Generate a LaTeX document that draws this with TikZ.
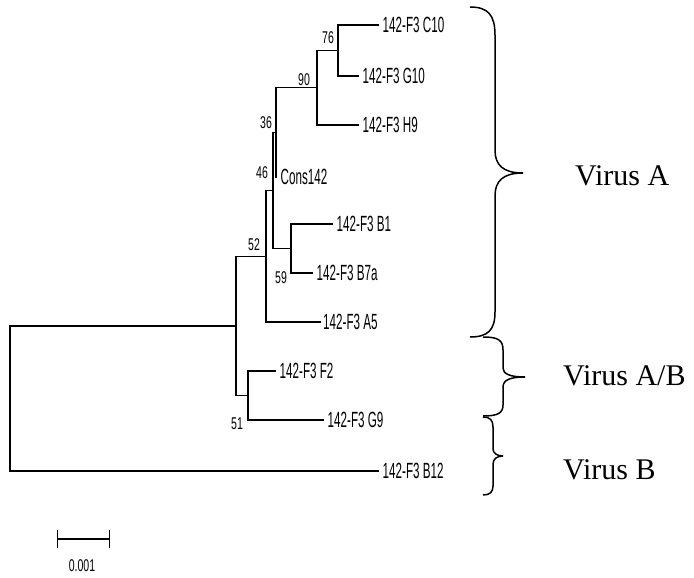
\documentclass[tikz,border=0pt]{standalone}
\usepackage{fontspec}
\newfontfamily\leaffont[FakeStretch=0.53]{Liberation Sans}
\newfontfamily\bootfont[FakeStretch=0.62]{Liberation Sans}
\newfontfamily\virusfont{Liberation Serif}
\begin{document}
\begin{tikzpicture}[x=1pt,y=-1pt,
  branch/.style={line width=1.2pt,line cap=rect},
  leaflab/.style={anchor=west,inner sep=0pt,xshift=4.5pt,font=\leaffont\fontsize{22}{24}\selectfont},
  bootlab/.style={inner sep=0pt,font=\bootfont\fontsize{17}{19}\selectfont},
  bracestyle/.style={line width=1.5pt},
  viruslab/.style={anchor=base west,inner sep=0pt,font=\virusfont\fontsize{30}{34}\selectfont}]
\useasboundingbox (0,0) rectangle (694,578);
% internal nodes
\coordinate (root) at (10,398.4);
\coordinate (n0) at (236,325.9);
\coordinate (n52) at (266,256.25);
\coordinate (n46) at (273,190.5);
\coordinate (n36) at (276,132.4);
\coordinate (n90) at (317,87.75);
\coordinate (n76) at (338,50.5);
\coordinate (n59) at (291,248.5);
\coordinate (n51) at (248,395.5);
% leaves
\coordinate (C10) at (378,25);
\coordinate (G10) at (358,76);
\coordinate (H9) at (358,125);
\coordinate (Cons) at (276,177);
\coordinate (B1) at (332,224);
\coordinate (B7a) at (312,273);
\coordinate (A5) at (320,322);
\coordinate (F2) at (275,371);
\coordinate (G9) at (323,420);
\coordinate (B12) at (378,471);
% branches
\draw[branch] (root) |- (n0);
\draw[branch] (root) |- (B12);
\draw[branch] (n0) |- (n52);
\draw[branch] (n0) |- (n51);
\draw[branch] (n52) |- (n46);
\draw[branch] (n52) |- (A5);
\draw[branch] (n46) |- (n36);
\draw[branch] (n46) |- (n59);
\draw[branch] (n36) |- (n90);
\draw[branch] (n36) |- (Cons);
\draw[branch] (n90) |- (n76);
\draw[branch] (n90) |- (H9);
\draw[branch] (n76) |- (C10);
\draw[branch] (n76) |- (G10);
\draw[branch] (n59) |- (B1);
\draw[branch] (n59) |- (B7a);
\draw[branch] (n51) |- (F2);
\draw[branch] (n51) |- (G9);
% leaf labels
\node[leaflab] (lC10) at (C10) {142-F3 C10};
\node[leaflab] (lG10) at (G10) {142-F3 G10};
\node[leaflab] (lH9) at (H9) {142-F3 H9};
\node[leaflab] (lCons) at (Cons) {Cons142};
\node[leaflab] (lB1) at (B1) {142-F3 B1};
\node[leaflab] (lB7a) at (B7a) {142-F3 B7a};
\node[leaflab,xshift=-1.5pt] (lA5) at (A5) {142-F3 A5};
\node[leaflab] (lF2) at (F2) {142-F3 F2};
\node[leaflab] (lG9) at (G9) {142-F3 G9};
\node[leaflab] (lB12) at (B12) {142-F3 B12};
% bootstrap values
\node[bootlab] (b76) at (328,38) {76};
\node[bootlab] (b90) at (304,80) {90};
\node[bootlab] (b36) at (266,123) {36};
\node[bootlab] (b46) at (262,173) {46};
\node[bootlab] (b52) at (254,245) {52};
\node[bootlab] (b59) at (281,278) {59};
\node[bootlab] (b51) at (237,424) {51};
% scale bar
\coordinate (sbl) at (57,539);
\coordinate (sbr) at (109,539);
\draw[branch,line cap=butt] (sbl) -- (sbr);
\draw[line width=1pt] ([yshift=-9pt]sbl) -- ([yshift=9pt]sbl);
\draw[line width=1pt] ([yshift=-9pt]sbr) -- ([yshift=9pt]sbr);
\node[bootlab] (sblab) at (82,566) {0.001};
% braces
\draw[bracestyle] (470,7) .. controls (488,7) and (495,15) .. (495,35) -- (495,150)
  .. controls (495,165) and (503,173) .. (523,173);
\draw[bracestyle] (523,173) .. controls (503,173) and (495,181) .. (495,196) -- (495,312)
  .. controls (495,330) and (488,337) .. (470,337);
\draw[bracestyle] (483,337) .. controls (498,337) and (503,340) .. (503,350) -- (503,368)
  .. controls (503,374) and (510,377) .. (525,377);
\draw[bracestyle] (525,377) .. controls (510,377) and (503,380) .. (503,387) -- (503,405)
  .. controls (503,413) and (498,416) .. (483,416);
\draw[bracestyle] (483,417) .. controls (490,417) and (493,420) .. (493,427) -- (493,449)
  .. controls (493,453) and (497,456) .. (503,456);
\draw[bracestyle] (503,456) .. controls (497,456) and (493,459) .. (493,464) -- (493,486)
  .. controls (493,492) and (490,495) .. (483,495);
% group labels
\node[viruslab] (vA) at (575,185) {Virus A};
\node[viruslab] (vAB) at (563,385) {Virus A/B};
\node[viruslab] (vB) at (563,479) {Virus B};
\end{tikzpicture}
\end{document}
